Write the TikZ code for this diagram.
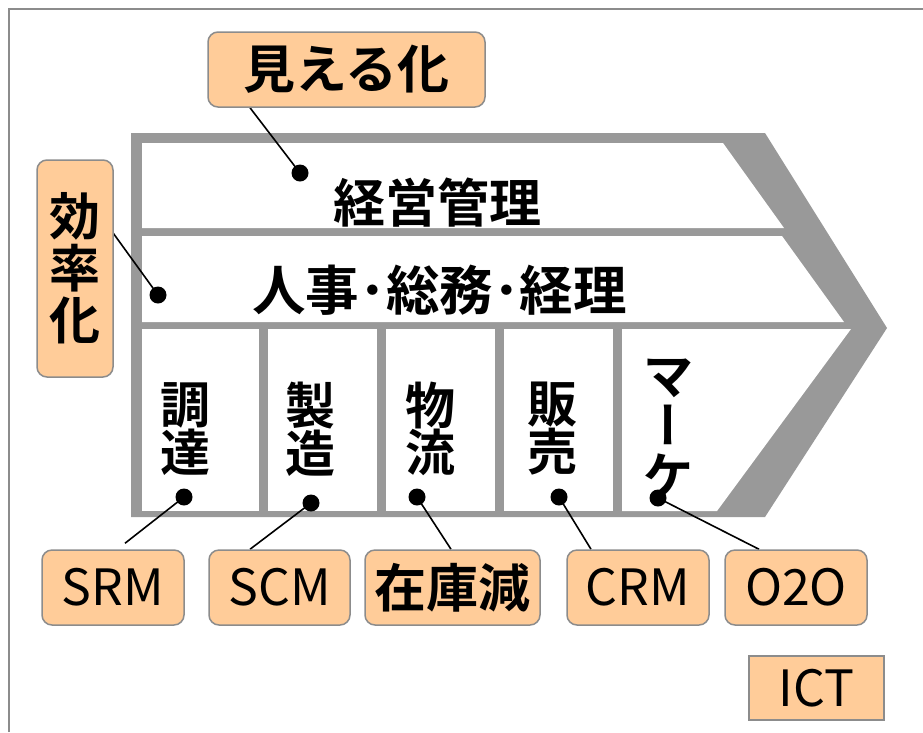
\documentclass[tikz,border=0pt]{standalone}
\usepackage{fontspec}
\setmainfont{Noto Sans CJK JP}[BoldFont={Noto Sans CJK JP Bold}]
\usetikzlibrary{calc}
\definecolor{band}{HTML}{999999}
\definecolor{frameg}{HTML}{8C8C8C}
\definecolor{boxfill}{HTML}{FFCC99}
\definecolor{boxline}{HTML}{8C8C8C}
\pgfdeclarelayer{bg}
\pgfdeclarelayer{lines}
\pgfsetlayers{bg,lines,main}
\tikzset{
 tag/.style={draw=boxline, line width=1.5pt, fill=boxfill, rounded corners=10pt, inner sep=0pt, font=\fontsize{50}{50}\selectfont},
 jtag/.style={tag, font=\bfseries\fontsize{52}{52}\selectfont},
 dotnode/.style={circle, fill=black, inner sep=0pt, minimum size=17pt},
 link/.style={line width=1.6pt},
 jlabel/.style={font=\bfseries\fontsize{52}{52}\selectfont, inner sep=0pt},
 coltext/.style={font=\bfseries\fontsize{50}{47}\selectfont, align=center, inner sep=0pt},
}
\begin{document}
\begin{tikzpicture}[x=1pt,y=-1pt]
\useasboundingbox (0,0) rectangle (923,732);
\begin{pgfonlayer}{bg}
\fill[white] (0,0) rectangle (923,732);
\draw[frameg, line width=2pt] (8.7,732) -- (8.7,9.3) -- (923,9.3);
\fill[band] (131,133) -- (765,133) -- (887,328) -- (765,517) -- (131,517) -- cycle;
\fill[white] (142,143) -- (723,143) -- (784,228) -- (142,228) -- cycle;
\fill[white] (142,236) -- (782,236) -- (844,322) -- (142,322) -- cycle;
\fill[white] (142,329) rectangle (259,511);
\fill[white] (268,329) rectangle (377,511);
\fill[white] (386,329) rectangle (495,511);
\fill[white] (504,329) rectangle (613,511);
\fill[white] (622,329) -- (851,329) -- (717,511) -- (622,511) -- cycle;
\end{pgfonlayer}

% row labels
\node[jlabel] (keiei) at (437,203) {経営管理};
\node[jlabel, font=\bfseries\fontsize{53.5}{53.5}\selectfont] (jinji) at (439.5,290) {人事･総務･経理};
\node[coltext] (chotatsu) at (185,429) {調\\達};
\node[coltext] (seizo) at (310,429) {製\\造};
\node[coltext] (butsuryu) at (430,429) {物\\流};
\node[coltext] (hanbai) at (552,429) {販\\売};
\node[coltext, font=\bfseries\fontsize{50}{50}\selectfont] (marke) at (668,428) {マ\\{\addfontfeature{RawFeature=+vert}ー}\\ケ};

% tags
\node[jtag, minimum width=277pt, minimum height=75pt] (mieru) at (346.5,69.5) {見える化};
\node[jtag, minimum width=76pt, minimum height=217pt, align=center, font=\bfseries\fontsize{51}{52}\selectfont] (kouritsu) at (75,268.5) {効\\率\\化};
\node[tag, minimum width=142pt, minimum height=75pt] (srm) at (113,587.5) {SRM};
\node[tag, minimum width=141pt, minimum height=75pt] (scm) at (279.5,587.5) {SCM};
\node[jtag, minimum width=175pt, minimum height=75pt] (zaiko) at (452.5,587.5) {在庫減};
\node[tag, minimum width=142pt, minimum height=75pt] (crm) at (638,587.5) {CRM};
\node[tag, minimum width=142pt, minimum height=75pt] (o2o) at (796,587.5) {O2O};
\node[draw=boxline, fill=boxfill, line width=1.5pt, inner sep=0pt, minimum width=135pt, minimum height=64pt, font=\fontsize{50}{50}\selectfont] (ict) at (816.5,688) {ICT};

% dots
\node[dotnode] (dm) at (300,173) {};
\node[dotnode] (dk) at (158,295) {};
\node[dotnode] (d1) at (184,497) {};
\node[dotnode] (d2) at (311,503) {};
\node[dotnode] (d3) at (417,497) {};
\node[dotnode] (d4) at (559,497) {};
\node[dotnode] (d5) at (658,498) {};

% connectors
\coordinate (srmend) at ($(srm.north)+(12,-6)$);
\begin{pgfonlayer}{lines}
\draw[link] (dm.center) -- ($(mieru.south)+(-96.5,0)$);
\draw[link] (dk.center) -- ($(kouritsu.east)+(-5,-41.5)$);
\draw[link] (d1.center) -- (srmend);
\draw[link] (d2.center) -- ($(scm.north)+(-29.5,0)$);
\draw[link] (d3.center) -- ($(zaiko.north)+(-1.5,0)$);
\draw[link] (d4.center) -- ($(crm.north)+(-47,0)$);
\draw[link] (d5.center) -- ($(o2o.north)+(-37,0)$);
\end{pgfonlayer}
\end{tikzpicture}
\end{document}
